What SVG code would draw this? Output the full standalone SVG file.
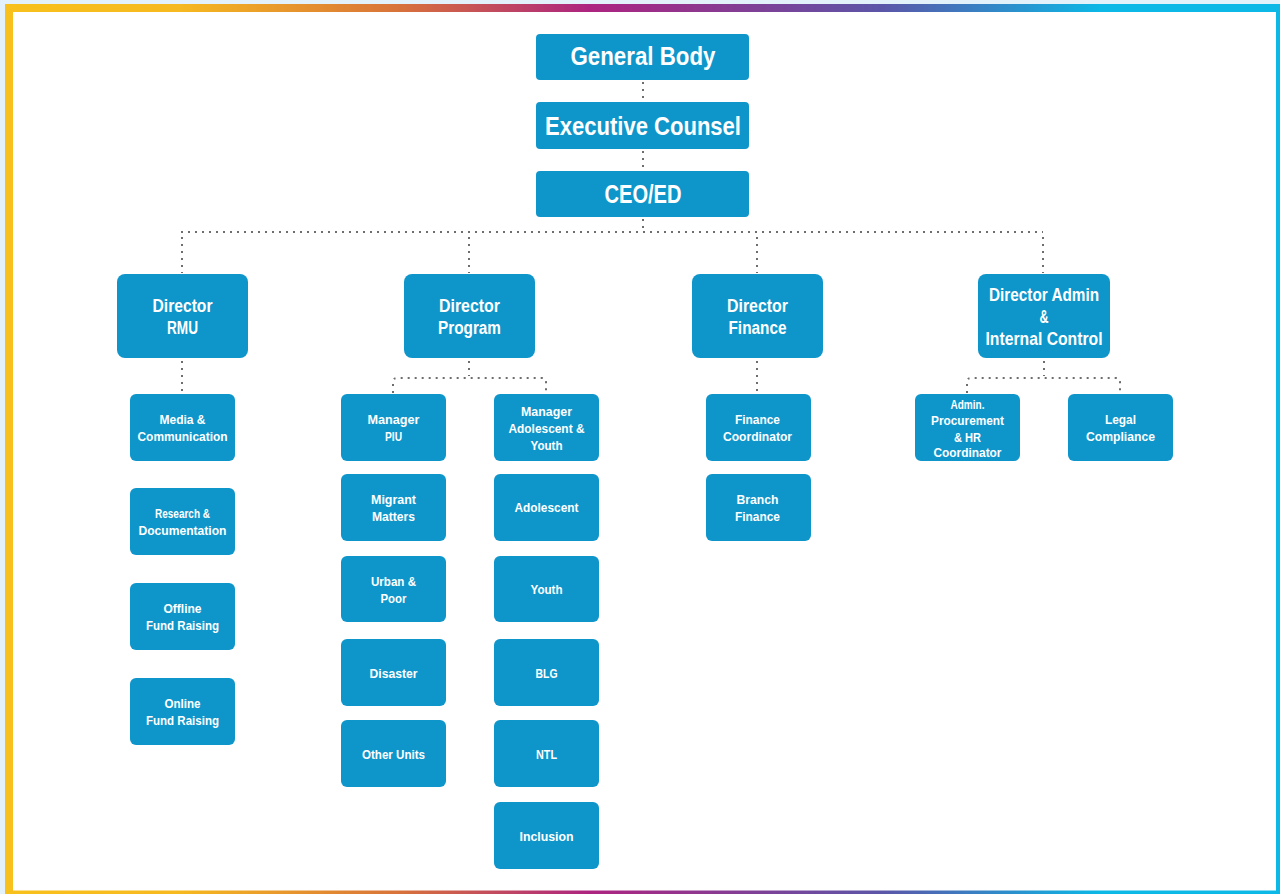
<svg xmlns="http://www.w3.org/2000/svg" width="1280" height="894" viewBox="0 0 1280 894">
<defs>
<linearGradient id="frame" x1="0" y1="0" x2="1280" y2="0" gradientUnits="userSpaceOnUse">
<stop offset="0" stop-color="#F8C11C"/>
<stop offset="0.14" stop-color="#F6B91F"/>
<stop offset="0.31" stop-color="#D8733A"/>
<stop offset="0.46" stop-color="#AD2480"/>
<stop offset="0.69" stop-color="#5B56A8"/>
<stop offset="0.86" stop-color="#0BB8E6"/>
<stop offset="1" stop-color="#0BB8E6"/>
</linearGradient>
<style>
.box{fill:#0E96CB;}
.t{fill:#FFFFFF;font-family:"Liberation Sans",Arial,sans-serif;font-weight:bold;text-anchor:middle;}
.big{font-size:25px;}
.mid{font-size:18px;}
.sm{font-size:12.5px;}
.c{fill:none;stroke:#6E6E6E;stroke-width:2;stroke-dasharray:2 5;}
</style>
</defs>
<rect x="0" y="0" width="1280" height="894" fill="#E3F1FB"/>
<rect x="5" y="4" width="1275" height="890" fill="url(#frame)"/>
<rect x="13" y="12" width="1263" height="878.5" fill="#FFFFFF"/>

<g id="connectors">
<path class="c" d="M643 82 V101"/>
<path class="c" d="M643 151 V170"/>
<path class="c" d="M643 219 V232"/>
<path class="c" d="M181 232 H1043"/>
<path class="c" d="M182 237 V273"/>
<path class="c" d="M469 237 V273"/>
<path class="c" d="M757 237 V273"/>
<path class="c" d="M1043 237 V273"/>
<path class="c" d="M182 361 V393"/>
<path class="c" d="M757 361 V393"/>
<path class="c" d="M469 361 V376"/>
<path class="c" d="M393 393 V382 Q393 378 397 378 H542 Q546 378 546 382 V393"/>
<path class="c" d="M1044 361 V376"/>
<path class="c" d="M967 393 V382 Q967 378 971 378 H1116 Q1120 378 1120 382 V393"/>
</g>

<g id="general-body"><rect class="box" x="536" y="34" width="213" height="46" rx="4"/><text class="t big" x="643" y="65" textLength="145" lengthAdjust="spacingAndGlyphs">General Body</text></g>
<g id="executive-counsel"><rect class="box" x="536" y="102" width="213" height="47" rx="4"/><text class="t big" x="643" y="135" textLength="196" lengthAdjust="spacingAndGlyphs">Executive Counsel</text></g>
<g id="ceo-ed"><rect class="box" x="536" y="171" width="213" height="46" rx="4"/><text class="t big" x="643" y="203" textLength="77" lengthAdjust="spacingAndGlyphs">CEO/ED</text></g>

<g id="director-rmu"><rect class="box" x="117" y="274" width="131" height="84" rx="8"/><text class="t mid" x="182.5" y="312" textLength="60" lengthAdjust="spacingAndGlyphs">Director</text><text class="t mid" x="182.5" y="334" textLength="31" lengthAdjust="spacingAndGlyphs">RMU</text></g>
<g id="director-program"><rect class="box" x="404" y="274" width="131" height="84" rx="8"/><text class="t mid" x="469.5" y="312" textLength="61" lengthAdjust="spacingAndGlyphs">Director</text><text class="t mid" x="469.5" y="334" textLength="63" lengthAdjust="spacingAndGlyphs">Program</text></g>
<g id="director-finance"><rect class="box" x="692" y="274" width="131" height="84" rx="8"/><text class="t mid" x="757.5" y="312" textLength="61" lengthAdjust="spacingAndGlyphs">Director</text><text class="t mid" x="757.5" y="334" textLength="58" lengthAdjust="spacingAndGlyphs">Finance</text></g>
<g id="director-admin"><rect class="box" x="978" y="274" width="132" height="84" rx="8"/><text class="t mid" x="1044" y="301" textLength="110" lengthAdjust="spacingAndGlyphs">Director Admin</text><text class="t mid" x="1044" y="323" textLength="9" lengthAdjust="spacingAndGlyphs">&amp;</text><text class="t mid" x="1044" y="345" textLength="117" lengthAdjust="spacingAndGlyphs">Internal Control</text></g>

<g id="media-communication"><rect class="box" x="130" y="394" width="105" height="67" rx="6"/><text class="t sm" x="182.5" y="424" textLength="46" lengthAdjust="spacingAndGlyphs">Media &amp;</text><text class="t sm" x="182.5" y="441" textLength="90" lengthAdjust="spacingAndGlyphs">Communication</text></g>
<g id="research-documentation"><rect class="box" x="130" y="488" width="105" height="67" rx="6"/><text class="t sm" x="182.5" y="518" textLength="55" lengthAdjust="spacingAndGlyphs">Research &amp;</text><text class="t sm" x="182.5" y="535" textLength="88" lengthAdjust="spacingAndGlyphs">Documentation</text></g>
<g id="offline-fund-raising"><rect class="box" x="130" y="583" width="105" height="67" rx="6"/><text class="t sm" x="182.5" y="613" textLength="38" lengthAdjust="spacingAndGlyphs">Offline</text><text class="t sm" x="182.5" y="630" textLength="73" lengthAdjust="spacingAndGlyphs">Fund Raising</text></g>
<g id="online-fund-raising"><rect class="box" x="130" y="678" width="105" height="67" rx="6"/><text class="t sm" x="182.5" y="708" textLength="36" lengthAdjust="spacingAndGlyphs">Online</text><text class="t sm" x="182.5" y="725" textLength="73" lengthAdjust="spacingAndGlyphs">Fund Raising</text></g>

<g id="manager-piu"><rect class="box" x="341" y="394" width="105" height="67" rx="6"/><text class="t sm" x="393.5" y="424" textLength="52" lengthAdjust="spacingAndGlyphs">Manager</text><text class="t sm" x="393.5" y="441" textLength="17" lengthAdjust="spacingAndGlyphs">PIU</text></g>
<g id="migrant-matters"><rect class="box" x="341" y="474" width="105" height="67" rx="6"/><text class="t sm" x="393.5" y="504" textLength="45" lengthAdjust="spacingAndGlyphs">Migrant</text><text class="t sm" x="393.5" y="521" textLength="43" lengthAdjust="spacingAndGlyphs">Matters</text></g>
<g id="urban-poor"><rect class="box" x="341" y="556" width="105" height="66" rx="6"/><text class="t sm" x="393.5" y="586" textLength="45" lengthAdjust="spacingAndGlyphs">Urban &amp;</text><text class="t sm" x="393.5" y="603" textLength="26" lengthAdjust="spacingAndGlyphs">Poor</text></g>
<g id="disaster"><rect class="box" x="341" y="639" width="105" height="67" rx="6"/><text class="t sm" x="393.5" y="678" textLength="48" lengthAdjust="spacingAndGlyphs">Disaster</text></g>
<g id="other-units"><rect class="box" x="341" y="720" width="105" height="67" rx="6"/><text class="t sm" x="393.5" y="759" textLength="63" lengthAdjust="spacingAndGlyphs">Other Units</text></g>

<g id="manager-adolescent-youth"><rect class="box" x="494" y="394" width="105" height="67" rx="6"/><text class="t sm" x="546.5" y="416" textLength="51" lengthAdjust="spacingAndGlyphs">Manager</text><text class="t sm" x="546.5" y="433" textLength="76" lengthAdjust="spacingAndGlyphs">Adolescent &amp;</text><text class="t sm" x="546.5" y="450" textLength="32" lengthAdjust="spacingAndGlyphs">Youth</text></g>
<g id="adolescent"><rect class="box" x="494" y="474" width="105" height="67" rx="6"/><text class="t sm" x="546.5" y="512" textLength="64" lengthAdjust="spacingAndGlyphs">Adolescent</text></g>
<g id="youth"><rect class="box" x="494" y="556" width="105" height="66" rx="6"/><text class="t sm" x="546.5" y="594" textLength="32" lengthAdjust="spacingAndGlyphs">Youth</text></g>
<g id="blg"><rect class="box" x="494" y="639" width="105" height="67" rx="6"/><text class="t sm" x="546.5" y="678" textLength="22" lengthAdjust="spacingAndGlyphs">BLG</text></g>
<g id="ntl"><rect class="box" x="494" y="720" width="105" height="67" rx="6"/><text class="t sm" x="546.5" y="759" textLength="21" lengthAdjust="spacingAndGlyphs">NTL</text></g>
<g id="inclusion"><rect class="box" x="494" y="802" width="105" height="67" rx="6"/><text class="t sm" x="546.5" y="841" textLength="54" lengthAdjust="spacingAndGlyphs">Inclusion</text></g>

<g id="finance-coordinator"><rect class="box" x="706" y="394" width="105" height="67" rx="6"/><text class="t sm" x="757.5" y="424" textLength="45" lengthAdjust="spacingAndGlyphs">Finance</text><text class="t sm" x="757.5" y="441" textLength="69" lengthAdjust="spacingAndGlyphs">Coordinator</text></g>
<g id="branch-finance"><rect class="box" x="706" y="474" width="105" height="67" rx="6"/><text class="t sm" x="757.5" y="504" textLength="42" lengthAdjust="spacingAndGlyphs">Branch</text><text class="t sm" x="757.5" y="521" textLength="45" lengthAdjust="spacingAndGlyphs">Finance</text></g>

<g id="admin-procurement-hr"><rect class="box" x="915" y="394" width="105" height="67" rx="6"/><text class="t sm" x="967.5" y="409" textLength="34" lengthAdjust="spacingAndGlyphs">Admin.</text><text class="t sm" x="967.5" y="425" textLength="73" lengthAdjust="spacingAndGlyphs">Procurement</text><text class="t sm" x="967.5" y="442" textLength="27" lengthAdjust="spacingAndGlyphs">&amp; HR</text><text class="t sm" x="967.5" y="457" textLength="68" lengthAdjust="spacingAndGlyphs">Coordinator</text></g>
<g id="legal-compliance"><rect class="box" x="1068" y="394" width="105" height="67" rx="6"/><text class="t sm" x="1120.5" y="424" textLength="31" lengthAdjust="spacingAndGlyphs">Legal</text><text class="t sm" x="1120.5" y="441" textLength="69" lengthAdjust="spacingAndGlyphs">Compliance</text></g>
</svg>
